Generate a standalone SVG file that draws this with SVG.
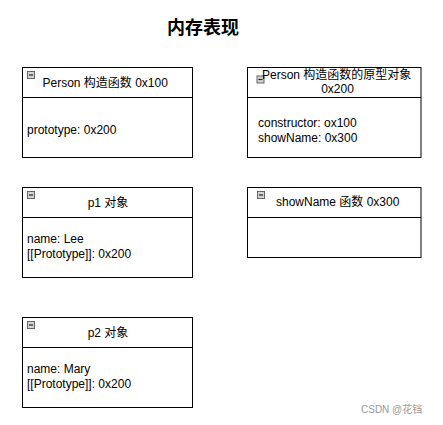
<svg xmlns="http://www.w3.org/2000/svg" width="443" height="425" viewBox="0 0 443 425">
<style>
.box{fill:#fff;stroke:#000;stroke-width:1}
.div{stroke:#000;stroke-width:1}
.t{font-family:"Liberation Sans","Noto Sans CJK SC",sans-serif;font-size:12px;fill:#000}
.title{font-family:"Liberation Sans","Noto Sans CJK SC",sans-serif;font-size:18px;font-weight:bold;fill:#000}
.wm{font-family:"Liberation Sans","Noto Sans CJK SC",sans-serif;font-size:10px;fill:#999}
.ic{fill:#d4d4d4;stroke:#666;stroke-width:1}
.icl{stroke:#222;stroke-width:1.2}
</style>
<defs>
<g id="icon"><rect class="ic" x="0.5" y="0.5" width="7" height="7"/><line class="icl" x1="2" y1="4" x2="6" y2="4"/></g>
</defs>
<text class="title" x="203" y="34" text-anchor="middle">内存表现</text>
<g id="connectors"></g>
<g id="person-ctor">
<rect class="box" x="22.5" y="67.5" width="170" height="90"/>
<line class="div" x1="22.5" y1="97.5" x2="192.5" y2="97.5"/>
<use href="#icon" x="27" y="71"/>
<text class="t" x="42.5" y="87">Person 构造函数 0x100</text>
<text class="t" x="27" y="134">prototype: 0x200</text>
</g>
<g id="person-proto">
<rect class="box" x="247.5" y="67.5" width="173.5" height="90"/>
<line class="div" x1="247.5" y1="97.5" x2="421" y2="97.5"/>
<use href="#icon" x="256.5" y="75.5"/>
<text class="t" x="262" y="79">Person 构造函数的原型对象</text>
<text class="t" x="337.5" y="93" text-anchor="middle">0x200</text>
<text class="t" x="258" y="127">constructor: ox100</text>
<text class="t" x="258" y="141.5">showName: 0x300</text>
</g>
<g id="p1">
<rect class="box" x="22.5" y="187.5" width="170" height="90"/>
<line class="div" x1="22.5" y1="217.5" x2="192.5" y2="217.5"/>
<use href="#icon" x="27" y="191"/>
<text class="t" x="108" y="206.5" text-anchor="middle">p1 对象</text>
<text class="t" x="27" y="243">name: Lee</text>
<text class="t" x="27" y="258">[[Prototype]]: 0x200</text>
</g>
<g id="showname">
<rect class="box" x="247.5" y="187.5" width="173.5" height="70"/>
<line class="div" x1="247.5" y1="217.5" x2="421" y2="217.5"/>
<use href="#icon" x="257" y="191"/>
<text class="t" x="276" y="206">showName 函数 0x300</text>
</g>
<g id="p2">
<rect class="box" x="22.5" y="317.5" width="170" height="90"/>
<line class="div" x1="22.5" y1="347.5" x2="192.5" y2="347.5"/>
<use href="#icon" x="27" y="321"/>
<text class="t" x="108" y="336.5" text-anchor="middle">p2 对象</text>
<text class="t" x="27" y="373">name: Mary</text>
<text class="t" x="27" y="388">[[Prototype]]: 0x200</text>
</g>
<text class="wm" x="361" y="413">CSDN @花铛</text>
</svg>
